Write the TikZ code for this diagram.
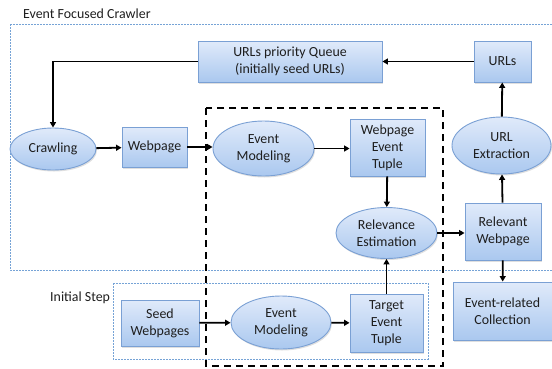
\documentclass[tikz,border=0pt]{standalone}
\usepackage{fontspec}
\setmainfont{Carlito}
\usetikzlibrary{shapes.geometric,arrows.meta,shadows}

\definecolor{boxtop}{RGB}{224,234,250}
\definecolor{boxbot}{RGB}{170,200,239}
\definecolor{boxedge}{RGB}{122,160,212}
\definecolor{groupedge}{RGB}{118,163,214}
\definecolor{inkc}{RGB}{30,30,30}

\begin{document}
\begin{tikzpicture}[x=1pt,y=-1pt,
  every node/.style={font=\fontsize{13.9}{16.8}\selectfont, text=inkc},
  base/.style={draw=boxedge, line width=0.9pt, top color=boxtop, bottom color=boxbot,
    align=center, inner sep=0pt,
    drop shadow={shadow xshift=1pt, shadow yshift=-1.5pt, opacity=0.25}},
  rbox/.style 2 args={base, rectangle, minimum width=#1, minimum height=#2},
  ebox/.style 2 args={base, ellipse, minimum width=#1, minimum height=#2},
  arr/.style={-{Triangle[length=5.5pt,width=6pt]}, line width=1.8pt, draw=black},
  grp/.style={draw=groupedge, line width=1pt, dash pattern=on 2pt off 1pt},
  core/.style={draw=black, line width=2.2pt, dash pattern=on 7pt off 5pt},
  lbl/.style={inner sep=0pt}
]
\useasboundingbox (0,0) rectangle (552,368);

% group frames
\draw[grp] (10,24) rectangle (557,270);
\draw[grp] (113,283) rectangle (428,359);
\node[lbl, anchor=west] (crawlerlbl) at (23,14) {Event Focused Crawler};
\node[lbl, anchor=west] (initlbl) at (50,298) {Initial Step};

% crawler loop
\node[rbox={184pt}{41pt}] (queue) at (290,61.5) {URLs priority Queue\\(initially seed URLs)};
\node[rbox={57pt}{41pt}] (urls) at (502.5,61.5) {URLs};
\node[ebox={86pt}{42pt}] (crawl) at (53,149) {Crawling};
\node[rbox={65pt}{40pt}] (webpage) at (154.5,147) {Webpage};
\node[ebox={101pt}{55pt}] (emodel) at (263.5,148.5) {Event\\Modeling};
\node[rbox={75pt}{57pt}] (wtuple) at (387.5,147.5) {Webpage\\Event\\Tuple};
\node[ebox={99pt}{57pt}] (urlx) at (501.5,145.5) {URL\\Extraction};
\node[ebox={101pt}{51pt}] (relev) at (386.5,233) {Relevance\\Estimation};
\node[rbox={76pt}{57pt}] (relweb) at (503,231.5) {Relevant\\Webpage};
\node[rbox={99pt}{58pt}] (collect) at (502.5,311) {Event-related\\Collection};

% initial step
\node[rbox={78pt}{46pt}] (seed) at (160,323) {Seed\\Webpages};
\node[ebox={100pt}{53pt}] (emodel2) at (281,322.5) {Event\\Modeling};
\node[rbox={73pt}{58pt}] (ttuple) at (386.5,323) {Target\\Event\\Tuple};

% relevance core frame
\draw[core] (206,108) rectangle (443,366);

% connectors
\draw[arr] (urls) -- (queue);
\draw[arr] (queue.west) -| (crawl.north);
\draw[arr] (crawl) -- (webpage);
\draw[arr] (webpage.east) -- (webpage.east -| emodel.west);
\draw[arr] (emodel.east) -- (emodel.east -| wtuple.west);
\draw[arr] (wtuple) -- (relev);
\draw[arr] (ttuple) -- (relev);
\draw[arr] (relev.east) -- (relev.east -| relweb.west);
\draw[arr] (relweb) -- (urlx);
\draw[arr] (urlx) -- (urls);
\draw[arr] (relweb) -- (collect);
\draw[arr] (seed) -- (emodel2);
\draw[arr] (emodel2) -- (ttuple);
\end{tikzpicture}
\end{document}
